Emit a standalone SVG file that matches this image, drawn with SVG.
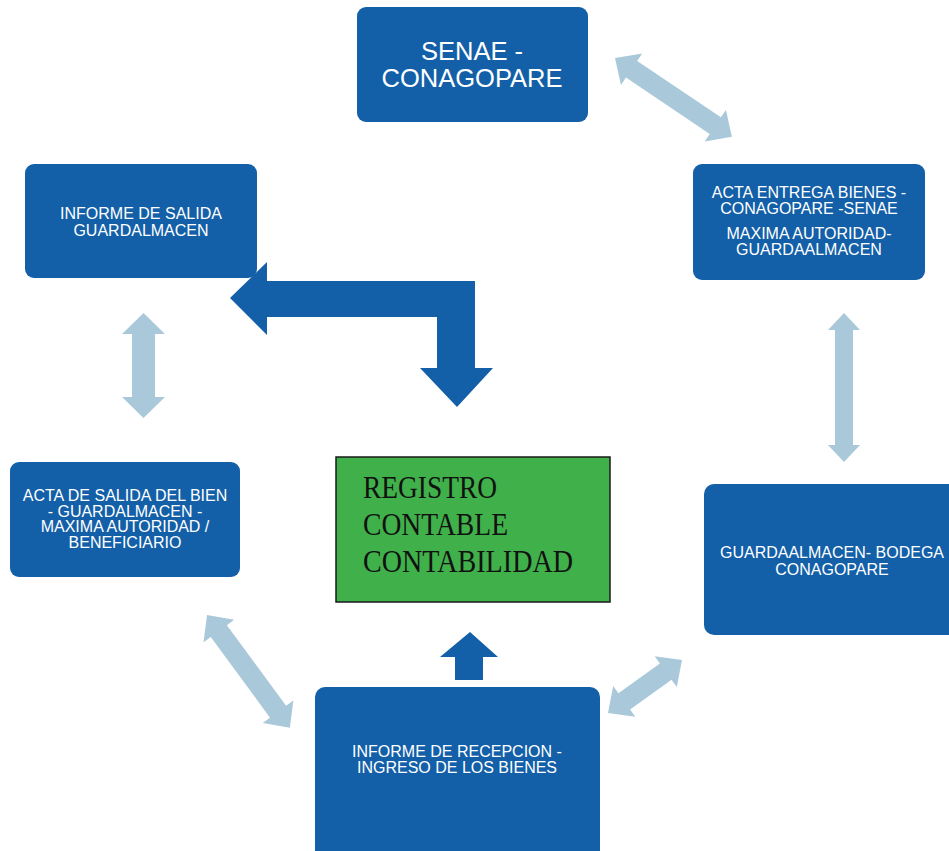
<svg xmlns="http://www.w3.org/2000/svg" width="949" height="851" viewBox="0 0 949 851">
<style>
.box{fill:#135fa8;}
.t{font-family:"Liberation Sans",Arial,sans-serif;fill:#ffffff;text-anchor:middle;font-size:16px;}
.lt{fill:#a9c9da;}
.dk{fill:#135fa8;}
.g{font-family:"Liberation Serif","Times New Roman",serif;fill:#111111;font-size:31px;}
</style>
<rect width="949" height="851" fill="#ffffff"/>
<g id="connectors">
<polygon class="lt" transform="translate(615,58) rotate(34)" points="0,0 20,-19 20,-10 121,-10 121,-19 141,0 121,19 121,10 20,10 20,19"/>
<polygon class="lt" transform="translate(844,313) rotate(90)" points="0,0 17,-16 17,-9 132,-9 132,-16 149,0 132,16 132,9 17,9 17,16"/>
<polygon class="lt" transform="translate(143.5,313) rotate(90)" points="0,0 21,-21.5 21,-11.5 84,-11.5 84,-21.5 105,0 84,21.5 84,11.5 21,11.5 21,21.5"/>
<polygon class="lt" transform="translate(207,615) rotate(53.7)" points="0,0 20,-19 20,-10 120,-10 120,-19 140,0 120,19 120,10 20,10 20,19"/>
<polygon class="lt" transform="translate(608,713) rotate(-35.6)" points="0,0 20,-19 20,-10 71,-10 71,-19 91,0 71,19 71,10 20,10 20,19"/>
<polygon class="dk" points="230,298 267,262 267,281 475,281 475,368 493,368 457,407 420,368 437,368 437,317 267,317 267,335"/>
<polygon class="dk" points="470,632 498,657 483,657 483,680 455,680 455,657 440,657"/>
</g>
<g id="senae">
<rect class="box" x="357" y="7" width="231" height="115" rx="9"/>
<text class="t" style="font-size:25.5px" x="472" y="60">SENAE -</text>
<text class="t" style="font-size:25.5px" x="472" y="87">CONAGOPARE</text>
</g>
<g id="acta-entrega">
<rect class="box" x="693" y="164" width="232" height="116" rx="9"/>
<text class="t" x="809" y="197.5">ACTA ENTREGA BIENES -</text>
<text class="t" x="809" y="213.5">CONAGOPARE -SENAE</text>
<text class="t" x="809" y="238.5">MAXIMA AUTORIDAD-</text>
<text class="t" x="809" y="255">GUARDAALMACEN</text>
</g>
<g id="informe-salida">
<rect class="box" x="25" y="164" width="232" height="114" rx="9"/>
<text class="t" x="141" y="218.5">INFORME DE SALIDA</text>
<text class="t" x="141" y="235.5">GUARDALMACEN</text>
</g>
<g id="acta-salida">
<rect class="box" x="10" y="462" width="230" height="115" rx="9"/>
<text class="t" x="125" y="500.5">ACTA DE SALIDA DEL BIEN</text>
<text class="t" x="125" y="516.5">- GUARDALMACEN -</text>
<text class="t" x="125" y="532">MAXIMA AUTORIDAD /</text>
<text class="t" x="125" y="547.5">BENEFICIARIO</text>
</g>
<g id="registro">
<rect x="336" y="457" width="274" height="145" fill="#40b04a" stroke="#1a1a1a" stroke-width="1.5"/>
<text class="g" x="363" y="498" textLength="134" lengthAdjust="spacingAndGlyphs">REGISTRO</text>
<text class="g" x="363" y="535" textLength="145" lengthAdjust="spacingAndGlyphs">CONTABLE</text>
<text class="g" x="363" y="572" textLength="210" lengthAdjust="spacingAndGlyphs">CONTABILIDAD</text>
</g>
<g id="guardaalmacen">
<rect class="box" x="704" y="484" width="255" height="151" rx="10"/>
<text class="t" x="832" y="557.5">GUARDAALMACEN- BODEGA</text>
<text class="t" x="832" y="574.5">CONAGOPARE</text>
</g>
<g id="informe-recepcion">
<rect class="box" x="315" y="687" width="285" height="175" rx="10"/>
<text class="t" x="457" y="757">INFORME DE RECEPCION -</text>
<text class="t" x="457" y="773">INGRESO DE LOS BIENES</text>
</g>
</svg>
